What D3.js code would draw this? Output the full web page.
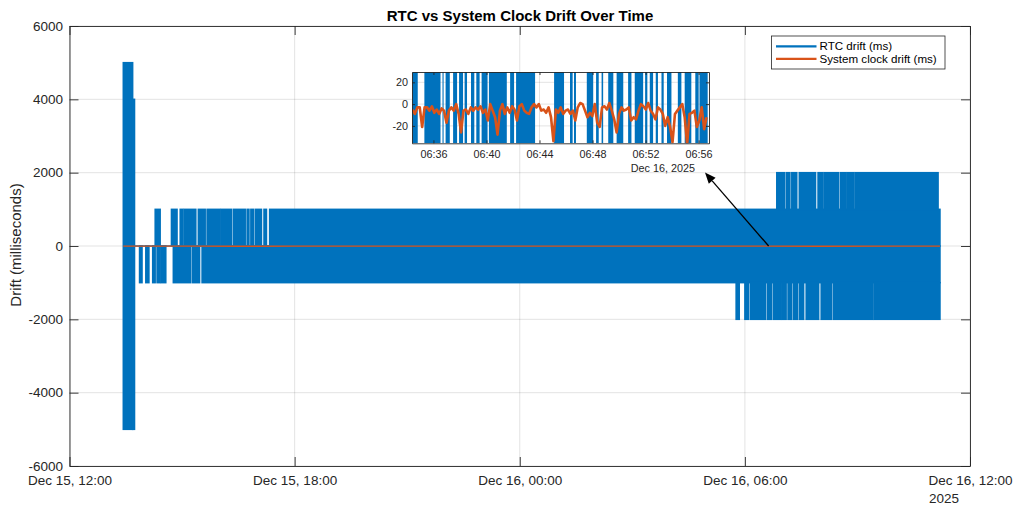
<!DOCTYPE html>
<html>
<head>
<meta charset="utf-8">
<script src="https://cdn.jsdelivr.net/npm/d3@7"></script>
<style>
  body { margin: 0; background: #fff; }
  svg { font-family: "Liberation Sans", Arial, Helvetica, sans-serif; }
  .axis text { fill: #262626; }
  .axis line, .axis path { stroke: #262626; stroke-width: 0.9; }
</style>
</head>
<body>
<svg id="chart" width="1023" height="514"></svg>
<script>
// RTC drift is a very fast saw between levels, so it is kept as the
// time spans the line sweeps through
var rtcSpike = [
  ["12-15 13:26", "12-15 13:41", -5000, 5000],
  ["12-15 13:41", "12-15 13:44", -5000, 4000]
];
var rtcBase = [["12-15 13:44", "12-16 11:12"]];   // sits at 0

// spans where it reaches +1000
var rtcUp1 = [
  ["12-15 14:17", "12-15 14:25"], ["12-15 14:43", "12-15 14:52"],
  ["12-15 14:57", "12-15 15:01"], ["12-15 15:03", "12-15 15:22"],
  ["12-15 15:26", "12-15 15:37"], ["12-15 15:40", "12-15 16:01"],
  ["12-15 16:03", "12-15 16:19"], ["12-15 16:22", "12-15 16:41"],
  ["12-15 16:44", "12-15 16:47"], ["12-15 16:50", "12-15 16:54"],
  ["12-15 16:57", "12-15 17:07"], ["12-15 17:11", "12-15 17:15"],
  ["12-15 17:20", "12-16 11:12"]
];
// spans where it reaches -1000
var rtcLow1 = [
  ["12-15 13:52", "12-15 13:56"], ["12-15 14:02", "12-15 14:07"],
  ["12-15 14:13", "12-15 14:17"], ["12-15 14:20", "12-15 14:24"],
  ["12-15 14:26", "12-15 14:34"], ["12-15 14:46", "12-15 15:14"],
  ["12-15 15:17", "12-15 15:28"], ["12-15 15:32", "12-16 11:12"]
];
// spans where it reaches +2000
var rtcUp2 = [
  ["12-16 06:51", "12-16 07:03"], ["12-16 07:06", "12-16 07:12"],
  ["12-16 07:15", "12-16 07:23"], ["12-16 07:27", "12-16 07:53"],
  ["12-16 07:57", "12-16 08:05"], ["12-16 08:07", "12-16 08:30"],
  ["12-16 08:33", "12-16 08:42"], ["12-16 08:44", "12-16 08:54"],
  ["12-16 08:56", "12-16 11:09"]
];
// spans where it reaches -2000
var rtcLow2 = [
  ["12-16 05:46", "12-16 05:51"], ["12-16 06:00", "12-16 06:06"],
  ["12-16 06:09", "12-16 06:33"], ["12-16 06:36", "12-16 06:43"],
  ["12-16 06:46", "12-16 06:57"], ["12-16 06:59", "12-16 07:06"],
  ["12-16 07:09", "12-16 07:15"], ["12-16 07:18", "12-16 07:24"],
  ["12-16 07:27", "12-16 07:34"], ["12-16 07:38", "12-16 07:58"],
  ["12-16 08:02", "12-16 08:19"], ["12-16 08:22", "12-16 09:25"],
  ["12-16 09:27", "12-16 11:12"]
];

// system clock drift (ms), whole run
var sysMain = [
  ["12-15 13:26", -4], ["12-15 14:30", -6], ["12-15 15:30", -3], ["12-15 16:30", -7],
  ["12-15 18:00", -5], ["12-15 20:00", -4], ["12-15 22:00", -6], ["12-16 00:00", -5],
  ["12-16 02:00", -4], ["12-16 04:00", -6], ["12-16 06:00", -5], ["12-16 08:00", -7],
  ["12-16 10:00", -4], ["12-16 11:12", -5]
];

// zoomed window, Dec 16
var zoomRange = ["06:34:23", "06:56:47"];
var rtcZoomBars = [
  ["06:34:25", "06:34:49"], ["06:35:19", "06:36:32"], ["06:36:41", "06:36:46"],
  ["06:36:55", "06:37:14"], ["06:37:29", "06:37:47"], ["06:37:56", "06:38:14"],
  ["06:38:21", "06:38:32"], ["06:38:50", "06:39:05"], ["06:39:14", "06:39:29"],
  ["06:39:38", "06:40:05"], ["06:40:11", "06:41:32"], ["06:41:47", "06:42:05"],
  ["06:42:14", "06:43:40"], ["06:45:06", "06:45:51"], ["06:46:18", "06:46:30"],
  ["06:46:36", "06:46:45"], ["06:47:34", "06:48:03"], ["06:48:16", "06:48:28"],
  ["06:48:41", "06:48:48"], ["06:49:11", "06:49:34"], ["06:49:49", "06:50:19"],
  ["06:50:41", "06:50:56"], ["06:51:11", "06:51:49"], ["06:51:58", "06:52:08"],
  ["06:52:19", "06:52:34"], ["06:52:46", "06:52:56"], ["06:53:12", "06:53:22"],
  ["06:53:37", "06:53:57"], ["06:54:26", "06:54:42"], ["06:54:57", "06:55:27"],
  ["06:55:45", "06:56:00"], ["06:56:04", "06:56:41"]
];
// system clock drift samples, every 11 s from 06:34:25
var sysZoomStart = "06:34:25", sysZoomStep = 11;
var sysZoom = [
  -5, -9, -3, -3, -21, -3, -3, -6, -2, -8,
  -5, -9, -4, -6, -17, -6, -3, -6, 0, -9,
  -26, -6, -5, -9, -3, -6, -3, -5, -2, -8,
  -5, -15, 0, -6, -12, -28, -6, 0, -9, -3,
  -8, -2, -5, -15, -2, 0, -6, -8, -9, -3,
  0, -3, 0, -6, -5, -8, -3, -12, -34, -5,
  -8, -3, -9, -6, -5, -9, -6, -15, -3, 1,
  0, -6, -12, -8, -11, 0, -17, -21, -3, -2,
  -5, 1, -6, -14, -26, -9, -3, -6, -5, -3,
  -15, -12, -14, -6, 0, -2, -5, 1, -6, -9,
  -14, -3, -5, -9, -20, -12, -21, -35, -9, -6,
  -3, 0, -12, -37, -9, -8, -6, -21, -15, -3,
  -23, -12
];

var arrowFrom = ["12-16 06:38", 0];
var legendNames = ["RTC drift (ms)", "System clock drift (ms)"];
var blue = "#0072BD", orange = "#D95319", ink = "#262626";

var parseT = d3.timeParse("%Y-%m-%d %H:%M");
var parseS = d3.timeParse("%Y-%m-%d %H:%M:%S");
function T(s) { return parseT("2025-" + s); }
function S(s) { return parseS("2025-12-16 " + s); }
function plain(d) { return String(d); }   // hyphen minus like the original

// d3 axes put font attrs on the group, drop them so the css size wins
function clean(g) { g.attr("font-size", null).attr("font-family", null); }

var svg = d3.select("#chart");

var x = d3.scaleTime().domain([T("12-15 12:00"), T("12-16 12:00")]).range([69.5, 970]);
var y = d3.scaleLinear().domain([-6000, 6000]).range([466, 26]);
var xTicks = x.ticks(d3.timeHour.every(6));
var yTicks = y.ticks(6);

svg.append("defs").append("clipPath").attr("id", "clipMain")
  .append("rect").attr("x", 69.5).attr("y", 26).attr("width", 900.5).attr("height", 440);

// grid
var grid = svg.append("g").attr("stroke", ink).attr("stroke-opacity", 0.13);
grid.selectAll(".gx").data(xTicks).join("line")
  .attr("x1", function(d) { return x(d); }).attr("x2", function(d) { return x(d); })
  .attr("y1", 26).attr("y2", 466);
grid.selectAll(".gy").data(yTicks).join("line")
  .attr("y1", function(d) { return y(d); }).attr("y2", function(d) { return y(d); })
  .attr("x1", 69.5).attr("x2", 970);

var plot = svg.append("g").attr("clip-path", "url(#clipMain)");

function bands(data, lo, hi) {
  plot.append("g").attr("fill", blue).selectAll("rect").data(data).join("rect")
    .attr("x", function(d) { return x(T(d[0])) - 0.75; })
    .attr("width", function(d) { return x(T(d[1])) - x(T(d[0])) + 1.5; })
    .attr("y", function(d) { return y(d.length > 2 ? d[3] : hi) - 0.75; })
    .attr("height", function(d) {
      return y(d.length > 2 ? d[2] : lo) - y(d.length > 2 ? d[3] : hi) + 1.5;
    });
}
bands(rtcSpike);
bands(rtcUp1, 0, 1000);
bands(rtcLow1, -1000, 0);
bands(rtcUp2, 1000, 2000);
bands(rtcLow2, -2000, -1000);

plot.selectAll(".base").data(rtcBase).join("line")
  .attr("x1", function(d) { return x(T(d[0])); }).attr("x2", function(d) { return x(T(d[1])); })
  .attr("y1", y(0)).attr("y2", y(0)).attr("stroke", blue).attr("stroke-width", 1.5);

plot.append("path").datum(sysMain)
  .attr("fill", "none").attr("stroke", orange).attr("stroke-width", 1.3)
  .attr("d", d3.line().x(function(d) { return x(T(d[0])); }).y(function(d) { return y(d[1]); }));

// axes, MATLAB style: ticks inside, box on
var fmt = d3.timeFormat("%b %d, %H:%M");
var ax = svg.append("g").attr("class", "axis").style("font-size", "13.5px");
ax.append("g").attr("transform", "translate(0,466)")
  .call(d3.axisBottom(x).tickValues(xTicks).tickFormat(fmt).tickSizeInner(-9).tickSizeOuter(0).tickPadding(9))
  .call(clean);
ax.append("g").attr("transform", "translate(0,26)")
  .call(d3.axisTop(x).tickValues(xTicks).tickFormat("").tickSizeInner(-9).tickSizeOuter(0))
  .call(clean);
ax.append("g").attr("transform", "translate(69.5,0)")
  .call(d3.axisLeft(y).tickValues(yTicks).tickSizeInner(-9).tickSizeOuter(0).tickPadding(6.5)
    .tickFormat(plain))
  .call(clean);
ax.append("g").attr("transform", "translate(970,0)")
  .call(d3.axisRight(y).tickValues(yTicks).tickFormat("").tickSizeInner(-9).tickSizeOuter(0))
  .call(clean);

svg.append("text").attr("x", 929).attr("y", 503).attr("fill", ink)
  .style("font-size", "13.5px").text(d3.timeFormat("%Y")(x.domain()[1]));

svg.append("text").attr("transform", "translate(21,245) rotate(-90)")
  .attr("text-anchor", "middle").attr("fill", ink).style("font-size", "15px")
  .text("Drift (milliseconds)");

svg.append("text").attr("x", 520).attr("y", 21).attr("text-anchor", "middle")
  .attr("fill", "#000").style("font-size", "15px").style("font-weight", "bold")
  .text("RTC vs System Clock Drift Over Time");

// legend
var lg = svg.append("g");
lg.append("rect").attr("x", 771.5).attr("y", 36).attr("width", 173.5).attr("height", 33)
  .attr("fill", "#fff").attr("stroke", ink).attr("stroke-width", 0.8);
lg.selectAll("g").data(legendNames).join("g")
  .attr("transform", function(d, i) { return "translate(0," + (46.3 + i * 12.6) + ")"; })
  .each(function(d, i) {
    var g = d3.select(this);
    g.append("line").attr("x1", 776).attr("x2", 816.5)
      .attr("stroke", i ? orange : blue).attr("stroke-width", 2.2);
    g.append("text").attr("x", 819.5).attr("y", 4).attr("fill", "#000")
      .style("font-size", "11.6px").text(d);
  });

// arrow from the data to the zoom window
var ax0 = x(T(arrowFrom[0])), ay0 = y(arrowFrom[1]);
var ax1 = 705, ay1 = 172.5;
var ang = Math.atan2(ay1 - ay0, ax1 - ax0);
var hl = 11, hw = 4.5;
var bx = ax1 - hl * Math.cos(ang), by = ay1 - hl * Math.sin(ang);
svg.append("line").attr("x1", ax0).attr("y1", ay0).attr("x2", bx).attr("y2", by)
  .attr("stroke", "#000").attr("stroke-width", 1.3);
svg.append("path").attr("fill", "#000")
  .attr("d", "M" + ax1 + "," + ay1 +
    "L" + (bx + hw * Math.sin(ang)) + "," + (by - hw * Math.cos(ang)) +
    "L" + (bx - hw * Math.sin(ang)) + "," + (by + hw * Math.cos(ang)) + "Z");

// inset
var L = 412, R = 709, TOP = 72, BOT = 143.3;
var xi = d3.scaleTime().domain([S(zoomRange[0]), S(zoomRange[1])]).range([L, R]);
var yi = d3.scaleLinear().domain([-36, 29.5]).range([BOT, TOP]);
var xiTicks = xi.ticks(d3.timeMinute.every(4));
var yiTicks = [-20, 0, 20];

svg.select("defs").append("clipPath").attr("id", "clipInset")
  .append("rect").attr("x", L).attr("y", TOP).attr("width", R - L).attr("height", BOT - TOP);

var inset = svg.append("g");
inset.append("rect").attr("x", L).attr("y", TOP).attr("width", R - L).attr("height", BOT - TOP)
  .attr("fill", "#fff");
var ig = inset.append("g").attr("stroke", ink).attr("stroke-opacity", 0.13);
ig.selectAll(".gx").data(xiTicks).join("line")
  .attr("x1", function(d) { return xi(d); }).attr("x2", function(d) { return xi(d); })
  .attr("y1", TOP).attr("y2", BOT);
ig.selectAll(".gy").data(yiTicks).join("line")
  .attr("y1", function(d) { return yi(d); }).attr("y2", function(d) { return yi(d); })
  .attr("x1", L).attr("x2", R);

var ip = inset.append("g").attr("clip-path", "url(#clipInset)");
ip.append("g").attr("fill", blue).selectAll("rect").data(rtcZoomBars).join("rect")
  .attr("x", function(d) { return xi(S(d[0])); })
  .attr("width", function(d) { return xi(S(d[1])) - xi(S(d[0])); })
  .attr("y", TOP).attr("height", BOT - TOP);

var t0 = S(sysZoomStart);
ip.append("path").datum(sysZoom)
  .attr("fill", "none").attr("stroke", orange).attr("stroke-width", 2.6)
  .attr("stroke-linejoin", "round")
  .attr("d", d3.line()
    .x(function(d, i) { return xi(d3.timeSecond.offset(t0, i * sysZoomStep)); })
    .y(function(d) { return yi(d); }));

var iax = inset.append("g").attr("class", "axis").style("font-size", "10.8px");
iax.append("g").attr("transform", "translate(0," + BOT + ")")
  .call(d3.axisBottom(xi).tickValues(xiTicks).tickFormat(d3.timeFormat("%H:%M"))
    .tickSizeInner(-3).tickSizeOuter(0).tickPadding(7))
  .call(clean);
iax.append("g").attr("transform", "translate(0," + TOP + ")")
  .call(d3.axisTop(xi).tickValues(xiTicks).tickFormat("").tickSizeInner(-3).tickSizeOuter(0))
  .call(clean);
iax.append("g").attr("transform", "translate(" + L + ",0)")
  .call(d3.axisLeft(yi).tickValues(yiTicks).tickSizeInner(-3).tickSizeOuter(0).tickPadding(4)
    .tickFormat(plain))
  .call(clean);
iax.append("g").attr("transform", "translate(" + R + ",0)")
  .call(d3.axisRight(yi).tickValues(yiTicks).tickFormat("").tickSizeInner(-3).tickSizeOuter(0))
  .call(clean);

inset.append("text").attr("x", 695).attr("y", 172).attr("text-anchor", "end")
  .attr("fill", ink).style("font-size", "10.8px")
  .text(d3.timeFormat("%b %d, %Y")(xi.domain()[0]));
</script>
</body>
</html>
